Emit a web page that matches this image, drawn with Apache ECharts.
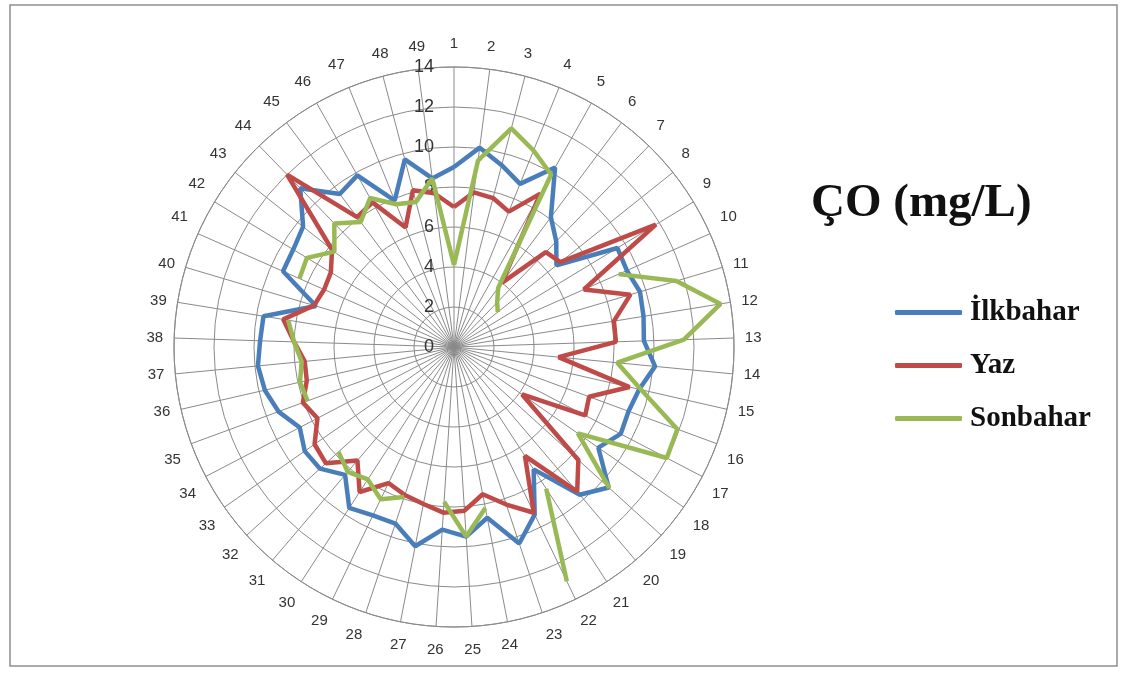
<!DOCTYPE html>
<html>
<head>
<meta charset="utf-8">
<script src="https://cdn.jsdelivr.net/npm/echarts/dist/echarts.min.js"></script>
<style>
  html, body { margin: 0; padding: 0; background: #fff; }
  #chart { width: 1125px; height: 673px; }
</style>
</head>
<body>
<div id="chart"></div>
<script>
// station numbers around the radar
const categories = ['1', '2', '3', '4', '5', '6', '7', '8', '9', '10', '11', '12', '13', '14', '15', '16', '17',
  '18', '19', '20', '21', '22', '23', '24', '25', '26', '27', '28', '29', '30', '31', '32', '33', '34', '35',
  '36', '37', '38', '39', '40', '41', '42', '43', '44', '45', '46', '47', '48', '49'];

const seriesNames = ['İlkbahar', 'Yaz', 'Sonbahar'];

const ilkbahar = [9.0, 10.05, 9.4, 8.8, 10.3, 8.1, 7.35, 6.55, 9.55, 9.45,
  9.7, 9.6, 9.5, 10.1, 9.5, 9.3, 9.4, 8.8, 10.45, 9.7,
  7.3, 9.3, 10.35, 8.7, 9.5, 9.15, 10.15, 9.3, 9.35, 9.6,
  8.4, 9.05, 9.1, 8.7, 9.35, 9.7, 9.85, 9.7, 9.65, 7.2,
  9.35, 9.4, 9.65, 11.05, 9.55, 9.85, 7.9, 9.7, 8.5];

const yaz = [7.0, 7.8, 7.7, 7.3, 8.8, 4.0, 6.6, 6.8, 11.8, 7.1,
  9.2, 8.1, 8.1, 5.25, 9.0, 7.2, 7.4, 4.15, 8.4, 9.5,
  6.5, 9.2, 8.3, 7.5, 8.2, 8.3, 8.0, 7.8, 7.55, 8.65,
  7.45, 8.65, 8.5, 7.7, 8.05, 7.55, 7.5, 8.0, 8.65, 7.3,
  7.1, 7.2, 7.8, 12.0, 8.1, 8.3, 6.45, 8.1, 7.75];

// null = no measurement (gap in the line)
const sonbahar = [4.1, 9.4, 11.3, 10.6, 9.9, 3.7, 3.1, 2.8, null, 9.0,
  11.6, 13.5, 11.5, 8.2, 9.6, 11.9, 12.0, 7.55, 10.5, null,
  8.45, 13.0, null, 8.2, 9.5, 7.75, null, 7.9, 8.45, 7.9,
  8.2, 7.8, null, null, 7.8, 7.9, 7.65, 8.0, 8.4, null,
  8.45, 8.6, 7.65, 8.6, 7.8, 8.55, 7.7, 7.5, 8.5];

const colors = ['#4A7EBB', '#BE4B48', '#98B954'];
const gridColor = '#8a8a8a';

// close the loop: last point goes back to station 1
const toPolar = vals => vals.concat([vals[0]]).map((v, i) => [v == null ? '-' : v, i]);

const chart = echarts.init(document.getElementById('chart'));

const option = {
  backgroundColor: '#fff',
  animation: false,
  title: {
    text: 'ÇO (mg/L)',
    left: 806,
    top: 175,
    textStyle: {
      fontFamily: 'Liberation Serif',
      fontWeight: 'bold',
      fontSize: 47,
      color: '#111'
    }
  },
  legend: {
    orient: 'vertical',
    left: 890,
    top: 293,
    itemWidth: 67,
    itemHeight: 5,
    itemGap: 24,
    icon: 'roundRect',
    textStyle: {
      fontFamily: 'Liberation Serif',
      fontWeight: 'bold',
      fontSize: 29,
      color: '#111',
      padding: [0, 0, 0, 3]
    },
    data: seriesNames
  },
  polar: {
    center: [454, 347],
    radius: 280
  },
  angleAxis: {
    type: 'value',
    min: 0,
    max: 49,
    interval: 1,
    startAngle: 90,
    clockwise: true,
    axisLine: { lineStyle: { color: gridColor, width: 1 } },
    axisTick: { show: false },
    splitLine: { lineStyle: { color: gridColor, width: 1 } },
    axisLabel: {
      formatter: v => categories[v] || '',
      margin: 11,
      fontSize: 15,
      lineHeight: 24,
      color: '#333',
      fontFamily: 'Liberation Sans'
    }
  },
  radiusAxis: {
    min: 0,
    max: 14,
    interval: 2,
    axisLine: { show: false },
    axisTick: { show: false },
    splitLine: { lineStyle: { color: gridColor, width: 1 } },
    axisLabel: {
      fontSize: 18,
      color: '#333',
      fontFamily: 'Liberation Sans',
      margin: 20
    }
  },
  series: seriesNames.map((name, i) => ({
    name,
    type: 'line',
    coordinateSystem: 'polar',
    data: toPolar([ilkbahar, yaz, sonbahar][i]),
    symbol: 'none',
    connectNulls: false,
    lineStyle: { width: 4.5, color: colors[i] },
    itemStyle: { color: colors[i] }
  })),
  graphic: [{
    type: 'rect',
    silent: true,
    shape: { x: 10, y: 5, width: 1107, height: 661 },
    style: { fill: 'none', stroke: '#8f8f8f', lineWidth: 1.5 }
  }]
};

chart.setOption(option);
</script>
</body>
</html>
